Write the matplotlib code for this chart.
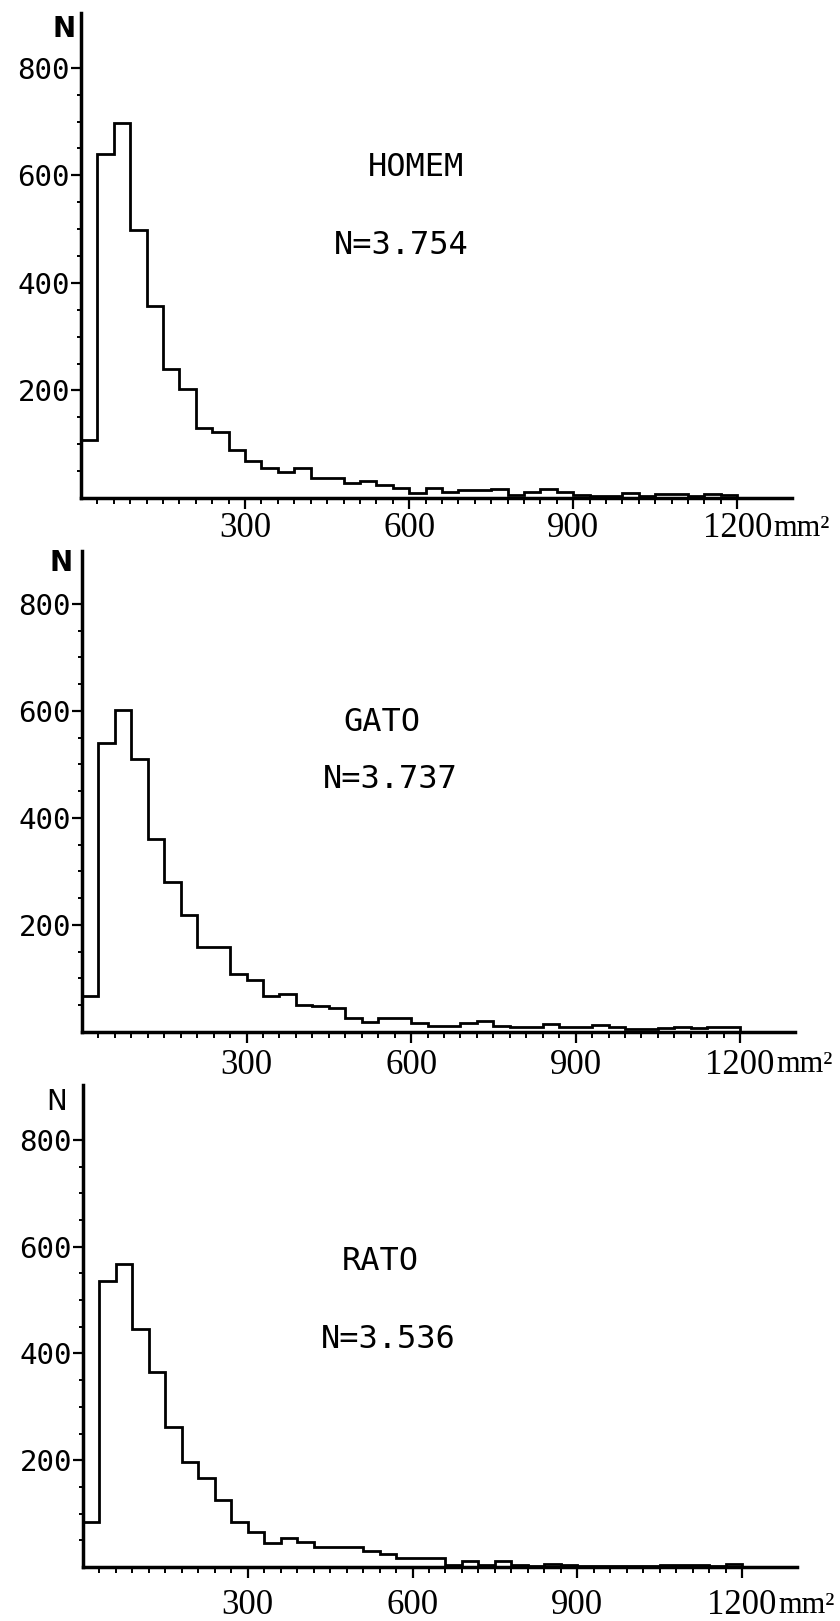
import numpy as np
import matplotlib
matplotlib.use("Agg")
import matplotlib.pyplot as plt

# bins of 30 mm2 from 0 to 1200
edges = np.arange(0, 1201, 30)

homem = [107, 639, 698, 499, 358, 239, 202, 131, 123, 89,
         69, 55, 48, 56, 37, 37, 27, 31, 24, 19,
         9, 19, 11, 14, 14, 17, 6, 11, 16, 12,
         6, 4, 4, 9, 4, 8, 7, 4, 7, 6]

gato = [67, 540, 602, 510, 360, 281, 218, 159, 159, 109,
        97, 67, 71, 50, 48, 44, 27, 19, 27, 26,
        16, 12, 12, 16, 20, 12, 9, 9, 15, 10,
        10, 13, 10, 5, 5, 7, 9, 7, 10, 9]

rato = [84, 536, 567, 445, 365, 263, 196, 166, 125, 85,
        66, 45, 55, 46, 37, 37, 37, 30, 24, 16,
        16, 16, 3, 11, 3, 11, 3, 2, 5, 3,
        2, 2, 2, 2, 2, 3, 4, 4, 2, 5]

names = ["HOMEM", "GATO", "RATO"]
totals = ["N=3.754", "N=3.737", "N=3.536"]
series = [homem, gato, rato]

x_major = [300, 600, 900, 1200]
x_labels = ["300", "600", "900", "1200"]
y_major = [200, 400, 600, 800]
y_labels = ["200", "400", "600", "800"]

W, H = 840, 1621
fig = plt.figure(figsize=(W / 100, H / 100), dpi=100)

# panel boxes in pixels: left, right, top, bottom
boxes = [(81, 792, 13, 498), (82, 795, 551, 1032), (83, 797, 1085, 1567)]
ytops = [902, 899, 903]
xpads = [2, 4, 8]
n_pos = [(64, 29), (61, 563), (57, 1102)]
n_bold = ["bold", "bold", "normal"]
name_pos = [(416, 167), (382, 722), (380, 1262)]
tot_pos = [(401, 246), (390, 780), (388, 1339)]

mono = "DejaVu Sans Mono"
serif = "Liberation Serif"
xfs = 25


def fx(px):
    return px / W


def fy(py):
    return 1 - py / H


for i in range(3):
    l, r, t, b = boxes[i]
    ax = fig.add_axes([fx(l), fy(b), (r - l) / W, (b - t) / H])
    ax.stairs(series[i], edges, baseline=0, color="black", linewidth=2.0)
    ax.set_xlim(0, 1300)
    ax.set_ylim(0, ytops[i])

    for s in ["top", "right"]:
        ax.spines[s].set_visible(False)
    for s in ["left", "bottom"]:
        ax.spines[s].set_linewidth(2.5)

    ax.set_xticks(x_major)
    ax.set_xticklabels(x_labels, fontfamily=serif, fontsize=xfs)
    ax.set_xticks([v for v in range(30, 1201, 30) if v not in x_major], minor=True)
    ax.set_yticks(y_major)
    ax.set_yticklabels(y_labels, fontfamily=mono, fontsize=21)
    ax.set_yticks([v for v in range(50, 800, 50) if v not in y_major], minor=True)

    ax.tick_params(axis="x", which="major", direction="out", length=8, width=1.6, pad=xpads[i])
    ax.tick_params(axis="x", which="minor", direction="out", length=4, width=1.4)
    ax.tick_params(axis="y", which="major", direction="out", length=7, width=1.6, pad=1)
    ax.tick_params(axis="y", which="minor", direction="out", length=3, width=1.4)

    # unit after the 1200 label, on the same baseline
    ax.annotate("mm²", xy=(1200, 0), xycoords=("data", "axes fraction"),
                xytext=(xfs + 1, -(8 + xpads[i] + 0.683 * xfs)), textcoords="offset points",
                ha="left", va="baseline", fontfamily=serif, fontsize=xfs - 3)

    fig.text(fx(n_pos[i][0]), fy(n_pos[i][1]), "N", ha="center", va="center",
             fontfamily="DejaVu Sans", fontsize=20, fontweight=n_bold[i])
    fig.text(fx(name_pos[i][0]), fy(name_pos[i][1]), names[i], ha="center",
             va="center", fontfamily=mono, fontsize=23)
    fig.text(fx(tot_pos[i][0]), fy(tot_pos[i][1]), totals[i], ha="center",
             va="center", fontfamily=mono, fontsize=23)

fig.savefig("out.png", dpi=100)
